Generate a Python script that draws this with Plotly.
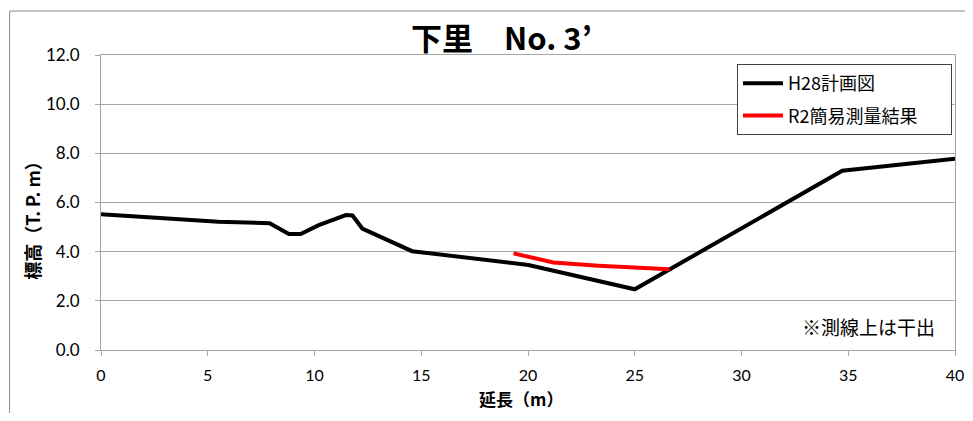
import plotly.graph_objects as go

# H28 plan profile
h28_x = [0, 5.5, 7.9, 8.8, 9.35, 10.2, 11.47, 11.78, 12.24, 14.57, 20.02, 25.0, 34.72, 40.0]
h28_y = [5.52, 5.22, 5.16, 4.72, 4.72, 5.08, 5.49, 5.47, 4.94, 4.02, 3.46, 2.47, 7.29, 7.78]

# R2 simple survey
r2_x = [19.32, 21.19, 23.3, 25.46, 26.63]
r2_y = [3.93, 3.56, 3.43, 3.32, 3.28]

x_ticks = [0, 5, 10, 15, 20, 25, 30, 35, 40]
y_ticks = [0, 2, 4, 6, 8, 10, 12]
y_tick_labels = ["0.0", "2.0", "4.0", "6.0", "8.0", "10.0", "12.0"]

title_text = "下里　No. 3’"
series_names = ["H28計画図", "R2簡易測量結果"]
note_text = "※測線上は干出"

FONT = "Lato, 'Noto Sans CJK JP', sans-serif"
JP = "'Noto Sans CJK JP', sans-serif"
GRID = "#A6A6A6"
PAD = "\u00a0" * 7

fig = go.Figure()
fig.add_trace(go.Scatter(x=h28_x, y=h28_y, mode="lines", name=series_names[0],
                         line=dict(color="#000000", width=4), legendgroup="a"))
fig.add_trace(go.Scatter(x=r2_x, y=r2_y, mode="lines", name=series_names[1] + PAD,
                         line=dict(color="#FF0000", width=4), legendgroup="b"))

fig.update_layout(
    width=957, height=405,
    margin=dict(l=93, r=10, t=47, b=63),
    paper_bgcolor="white", plot_bgcolor="white",
    font=dict(family=FONT, size=17, color="#000000"),
    showlegend=True,
    legend=dict(x=0.7447, y=0.9695, xanchor="left", yanchor="top",
                bordercolor="#404040", borderwidth=1, bgcolor="white",
                font=dict(family=JP, size=18), tracegroupgap=6,
                itemwidth=40),
    xaxis=dict(range=[0, 40], tickvals=x_ticks, showgrid=False, automargin=False,
               showline=True, linecolor=GRID, linewidth=1, mirror=True,
               ticks="outside", ticklen=5, tickcolor=GRID, ticklabelstandoff=6,
               ticklabeloverflow="allow",
               tickfont=dict(size=16, family=FONT), zeroline=False),
    yaxis=dict(range=[0, 12], tickvals=y_ticks, ticktext=y_tick_labels, automargin=False,
               showgrid=True, gridcolor=GRID, gridwidth=1,
               showline=True, linecolor=GRID, linewidth=1, mirror=True,
               ticks="outside", ticklen=5, tickcolor=GRID, ticklabelstandoff=12,
               tickfont=dict(size=17, family=FONT), zeroline=False),
    shapes=[dict(type="rect", xref="paper", yref="paper",
                 x0=-0.107, x1=1.3, y0=-0.6, y1=1.149,
                 line=dict(color="#898989", width=1), layer="below")],
    annotations=[
        dict(text=title_text, xref="paper", yref="paper", x=0.4684, y=1.064,
             xanchor="center", yanchor="middle", showarrow=False,
             font=dict(family=JP, size=31, color="#000000", weight="bold")),
        dict(text="標高（T. P. m）", xref="paper", yref="paper", x=-0.0808, y=0.455,
             xanchor="center", yanchor="middle", textangle=-90, showarrow=False,
             font=dict(family=JP, size=18, weight="bold")),
        dict(text="延長（m）", xref="paper", yref="paper", x=0.4918, y=-0.2136,
             xanchor="center", yanchor="bottom", showarrow=False,
             font=dict(family=JP, size=17, weight="bold")),
        dict(text=note_text, xref="paper", yref="paper", x=0.979, y=0.078,
             xanchor="right", yanchor="middle", showarrow=False,
             font=dict(family=JP, size=19)),
    ],
)

fig.write_html("out.html")
